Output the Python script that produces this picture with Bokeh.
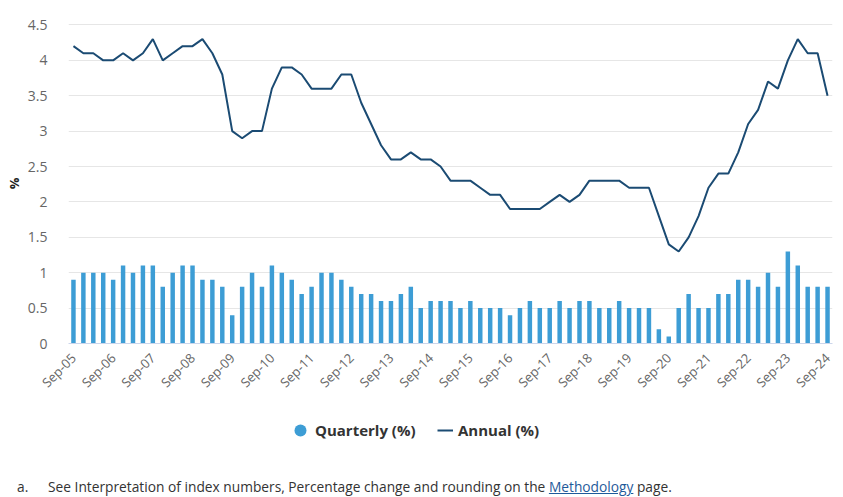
import math
from bokeh.plotting import figure
from bokeh.models import (ColumnDataSource, Range1d, FixedTicker, Legend, LegendItem,
                          Div, CustomJSTickFormatter)
from bokeh.layouts import column
from bokeh.embed import file_html
from bokeh.resources import INLINE

# ---------------- data ----------------
quarterly = [0.9, 1.0, 1.0, 1.0, 0.9, 1.1, 1.0, 1.1, 1.1, 0.8,
             1.0, 1.1, 1.1, 0.9, 0.9, 0.8, 0.4, 0.8, 1.0, 0.8,
             1.1, 1.0, 0.9, 0.7, 0.8, 1.0, 1.0, 0.9, 0.8, 0.7,
             0.7, 0.6, 0.6, 0.7, 0.8, 0.5, 0.6, 0.6, 0.6, 0.5,
             0.6, 0.5, 0.5, 0.5, 0.4, 0.5, 0.6, 0.5, 0.5, 0.6,
             0.5, 0.6, 0.6, 0.5, 0.5, 0.6, 0.5, 0.5, 0.5, 0.2,
             0.1, 0.5, 0.7, 0.5, 0.5, 0.7, 0.7, 0.9, 0.9, 0.8,
             1.0, 0.8, 1.3, 1.1, 0.8, 0.8, 0.8]

annual = [4.2, 4.1, 4.1, 4.0, 4.0, 4.1, 4.0, 4.1, 4.3, 4.0,
          4.1, 4.2, 4.2, 4.3, 4.1, 3.8, 3.0, 2.9, 3.0, 3.0,
          3.6, 3.9, 3.9, 3.8, 3.6, 3.6, 3.6, 3.8, 3.8, 3.4,
          3.1, 2.8, 2.6, 2.6, 2.7, 2.6, 2.6, 2.5, 2.3, 2.3,
          2.3, 2.2, 2.1, 2.1, 1.9, 1.9, 1.9, 1.9, 2.0, 2.1,
          2.0, 2.1, 2.3, 2.3, 2.3, 2.3, 2.2, 2.2, 2.2, 1.8,
          1.4, 1.3, 1.5, 1.8, 2.2, 2.4, 2.4, 2.7, 3.1, 3.3,
          3.7, 3.6, 4.0, 4.3, 4.1, 4.1, 3.5]

tick_labels = ["Sep-05", "Sep-06", "Sep-07", "Sep-08", "Sep-09", "Sep-10", "Sep-11",
               "Sep-12", "Sep-13", "Sep-14", "Sep-15", "Sep-16", "Sep-17", "Sep-18",
               "Sep-19", "Sep-20", "Sep-21", "Sep-22", "Sep-23", "Sep-24"]

y_ticks = [0, 0.5, 1, 1.5, 2, 2.5, 3, 3.5, 4, 4.5]

# ---------------- chart ----------------
n = len(quarterly)
idx = list(range(n))
src = ColumnDataSource(dict(x=idx, q=quarterly, a=annual))

BAR = "#3d9dd5"
LINE = "#1b4b73"
FONT = "Open Sans"

p = figure(width=843, height=405, output_backend="svg", toolbar_location=None,
           x_range=Range1d(-0.5, n - 0.5), y_range=Range1d(0, 4.52),
           min_border_left=68, min_border_right=11, min_border_top=23,
           min_border_bottom=62)
p.outline_line_color = None

p.vbar(x="x", top="q", width=0.45, source=src, fill_color=BAR, line_color=None)
p.line(x="x", y="a", source=src, line_color=LINE, line_width=2)

# x axis
p.xaxis.ticker = FixedTicker(ticks=list(range(0, n, 4)))
p.xaxis.major_label_overrides = {i * 4: lab for i, lab in enumerate(tick_labels)}
p.xaxis.major_label_orientation = math.pi / 4
p.xaxis.axis_line_color = "#ccd6eb"
p.xaxis.major_tick_line_color = None
p.xaxis.minor_tick_line_color = None
p.xaxis.major_label_text_font = FONT
p.xaxis.major_label_text_font_size = "13px"
p.xaxis.major_label_text_color = "#666666"
p.xaxis.major_label_standoff = 6
p.xgrid.visible = False

# y axis
p.yaxis.ticker = FixedTicker(ticks=y_ticks)
p.yaxis.formatter = CustomJSTickFormatter(code="return tick.toString();")
p.yaxis.axis_line_color = None
p.yaxis.major_tick_line_color = None
p.yaxis.minor_tick_line_color = None
p.yaxis.major_label_text_font = FONT
p.yaxis.major_label_text_font_size = "14px"
p.yaxis.major_label_text_color = "#666666"
p.yaxis.major_label_standoff = 15
p.yaxis.axis_label = "%"
p.yaxis.axis_label_text_font = FONT
p.yaxis.axis_label_text_font_size = "13px"
p.yaxis.axis_label_text_font_style = "bold"
p.yaxis.axis_label_text_color = "#222222"
p.yaxis.axis_label_standoff = 2
p.ygrid.ticker = FixedTicker(ticks=y_ticks)
p.ygrid.grid_line_color = "#e6e6e6"
p.ygrid.grid_line_width = 1

# ---------------- legend (own strip; frame aligned with chart frame, left=68) ----------------
lg = figure(width=843, height=50, output_backend="svg", toolbar_location=None,
            x_range=Range1d(0, 1), y_range=Range1d(0, 1),
            x_axis_type=None, y_axis_type=None,
            min_border_left=68, min_border_right=11, min_border_top=0, min_border_bottom=0)
lg.grid.visible = False
lg.outline_line_color = None
dot = lg.scatter(x=[-10], y=[-10], marker="circle", size=12, fill_color=BAR, line_color=None)
ln = lg.line(x=[-10, -9], y=[-10, -10], line_color=LINE, line_width=2)


def style_legend(leg):
    leg.label_text_font = FONT
    leg.label_text_font_size = "15px"
    leg.label_text_font_style = "bold"
    leg.label_text_color = "#333333"
    leg.border_line_color = None
    leg.background_fill_alpha = 0
    leg.margin = 0
    leg.padding = 0
    leg.orientation = "horizontal"


leg_q = Legend(items=[LegendItem(label="Quarterly (%)", renderers=[dot])],
               location=(285 - 68, 10))
style_legend(leg_q)
leg_q.glyph_width = 30
leg_q.glyph_height = 30
leg_q.label_standoff = 0

leg_a = Legend(items=[LegendItem(label="Annual (%)", renderers=[ln])],
               location=(437 - 68, 15))
style_legend(leg_a)
leg_a.glyph_width = 16
leg_a.glyph_height = 18
leg_a.label_standoff = 5

lg.add_layout(leg_q, "center")
lg.add_layout(leg_a, "center")

foot = Div(
    text=('<div style="padding:24px 0 0 17px;font-family:\'Open Sans\';font-size:13.75px;'
          'line-height:16px;color:#333333;white-space:nowrap;">'
          '<span style="display:inline-block;width:31px;">a.</span>'
          'See Interpretation of index numbers, Percentage change and rounding on the '
          '<a href="#" style="color:#1f5a9a;text-decoration:underline;">Methodology</a> page.'
          '</div>'),
    width=843, height=42, margin=(0, 0, 0, 0))

layout = column(p, lg, foot)
open("out.html", "w").write(file_html(layout, INLINE))
